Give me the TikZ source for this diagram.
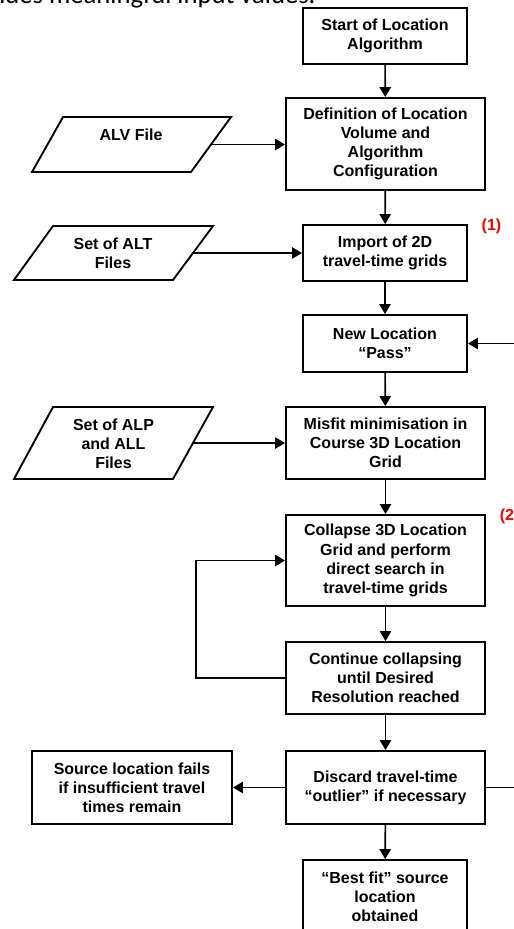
\documentclass[tikz,border=0pt]{standalone}
\usepackage{fontspec}
\setmainfont{Liberation Sans}
\newfontfamily\carlito{Carlito}
\usetikzlibrary{arrows.meta}
\begin{document}
\begin{tikzpicture}[x=0.75pt,y=-0.75pt,
  box/.style={draw, line width=1.4pt, align=center, inner sep=0pt,
    font=\bfseries\fontsize{12pt}{14.4pt}\selectfont},
  lbl/.style={align=center, inner sep=0pt,
    font=\bfseries\fontsize{12pt}{14.4pt}\selectfont},
  para/.style={draw, line width=1.4pt, line join=miter},
  arr/.style={line width=1.2pt, -{Triangle[length=7.5pt,width=8.5pt]}},
  ln/.style={line width=1.2pt},
  redlbl/.style={text=red, inner sep=0pt, font=\bfseries\fontsize{12pt}{14.4pt}\selectfont}]
\useasboundingbox (0,0) rectangle (514,929);
% partial heading line
\node[anchor=base west, inner sep=0pt, font=\carlito\fontsize{20pt}{24pt}\selectfont] (head) at (-1,3) {ides meaningful input values.};
% process boxes
\node[box, minimum width=123pt, minimum height=42pt] (start) at (385,36) {Start of Location\\Algorithm};
\node[box, minimum width=149.25pt, minimum height=69pt] (def) at (385.5,144) {Definition of Location\\Volume and\\Algorithm\\Configuration};
\node[box, minimum width=123pt, minimum height=42pt] (imp) at (385,253) {Import of 2D\\travel-time grids};
\node[box, minimum width=123pt, minimum height=42.75pt] (new) at (385,343.5) {New Location\\“Pass”};
\node[box, minimum width=149.25pt, minimum height=54pt] (mis) at (385.5,443) {Misfit minimisation in\\Course 3D Location\\Grid};
\node[box, minimum width=149.25pt, minimum height=68.25pt] (col) at (385.5,560.5) {Collapse 3D Location\\Grid and perform\\direct search in\\travel-time grids};
\node[box, minimum width=149.25pt, minimum height=54pt] (con) at (385.5,678) {Continue collapsing\\until Desired\\Resolution reached};
\node[box, minimum width=149.25pt, minimum height=54.75pt] (dis) at (385.5,787.5) {Discard travel-time\\“outlier” if necessary};
\node[box, minimum width=150pt, minimum height=54.75pt] (src) at (132,787.5) {Source location fails\\if insufficient travel\\times remain};
\node[box, minimum width=123pt, minimum height=55.5pt] (best) at (385,897) {“Best fit” source\\location\\obtained};
% input parallelograms
\draw[para] (63,117) -- (231,117) -- (191,172) -- (32,172) -- cycle;
\node[lbl] (alv) at (131,135) {ALV File};
\coordinate (alvR) at (211,144.5);
\draw[para] (53,226) -- (213,226) -- (173,280) -- (14,280) -- cycle;
\node[lbl] (alt) at (113,253.5) {Set of ALT\\Files};
\coordinate (altR) at (193,253);
\draw[para] (53,407) -- (213,407) -- (173,479) -- (14,479) -- cycle;
\node[lbl] (alp) at (113.5,444) {Set of ALP\\and ALL\\Files};
\coordinate (alpR) at (193,443);
% red labels
\node[redlbl] (r1) at (491.5,226) {(1)};
\node[redlbl, anchor=west] (r2) at (499.5,516) {(2)};
% connectors
\draw[arr] (start) -- (def);
\draw[arr] (def) -- (imp);
\draw[arr] (imp) -- (new);
\draw[arr] (new) -- (mis);
\draw[arr] (mis) -- (col);
\draw[arr] (col) -- (con);
\draw[arr] (con) -- (dis);
\draw[arr] (dis) -- (best);
\draw[arr] (dis.west) -- (src.east);
\draw[arr] (alvR) -- (alvR -| def.west);
\draw[arr] (altR) -- (altR -| imp.west);
\draw[arr] (alpR) -- (alpR -| mis.west);
\coordinate (loopx) at (196,678);
\draw[arr] (con.west) -- (con.west -| loopx) |- (col.west);
\coordinate (rin) at (516,343.5);
\draw[arr] (rin) -- (new.east);
\coordinate (rout) at (516,787.5);
\draw[ln] (dis.east) -- (rout);
\end{tikzpicture}
\end{document}
